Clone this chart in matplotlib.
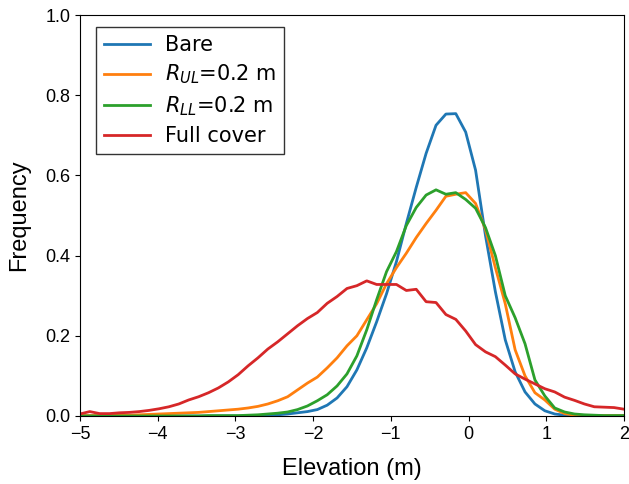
import numpy as np
import matplotlib
matplotlib.use("Agg")
import matplotlib.pyplot as plt

# elevation bin positions (56 bins over -5..2 m)
elevation = np.linspace(-5, 2, 56)

bare = [
    0.000, 0.000, 0.000, 0.000, 0.000, 0.000, 0.000, 0.000, 0.000, 0.000,
    0.000, 0.000, 0.000, 0.000, 0.000, 0.000, 0.000, 0.001, 0.001, 0.002,
    0.003, 0.005, 0.008, 0.011, 0.016, 0.027, 0.045, 0.073, 0.115, 0.170,
    0.235, 0.305, 0.385, 0.480, 0.570, 0.655, 0.725, 0.753, 0.754, 0.708,
    0.613, 0.450, 0.310, 0.190, 0.110, 0.060, 0.030, 0.013, 0.005, 0.002,
    0.001, 0.000, 0.000, 0.000, 0.000, 0.000,
]
upper_layer = [
    0.001, 0.001, 0.001, 0.002, 0.002, 0.002, 0.003, 0.004, 0.005, 0.006,
    0.007, 0.008, 0.009, 0.011, 0.013, 0.015, 0.017, 0.020, 0.024, 0.030,
    0.038, 0.048, 0.065, 0.082, 0.097, 0.120, 0.145, 0.175, 0.200, 0.240,
    0.280, 0.330, 0.370, 0.406, 0.445, 0.480, 0.513, 0.548, 0.553, 0.557,
    0.530, 0.465, 0.370, 0.280, 0.165, 0.100, 0.058, 0.040, 0.017, 0.006,
    0.002, 0.001, 0.001, 0.001, 0.001, 0.001,
]
lower_layer = [
    0.000, 0.000, 0.000, 0.000, 0.000, 0.000, 0.000, 0.000, 0.000, 0.000,
    0.000, 0.000, 0.000, 0.001, 0.001, 0.001, 0.001, 0.002, 0.003, 0.005,
    0.007, 0.010, 0.016, 0.025, 0.038, 0.053, 0.075, 0.105, 0.150, 0.215,
    0.290, 0.360, 0.410, 0.475, 0.520, 0.551, 0.564, 0.553, 0.557, 0.540,
    0.518, 0.470, 0.400, 0.300, 0.245, 0.180, 0.090, 0.050, 0.020, 0.010,
    0.005, 0.003, 0.002, 0.001, 0.001, 0.001,
]
full_cover = [
    0.005, 0.011, 0.006, 0.006, 0.008, 0.009, 0.011, 0.014, 0.018, 0.023,
    0.030, 0.040, 0.048, 0.058, 0.070, 0.085, 0.103, 0.125, 0.145, 0.167,
    0.185, 0.205, 0.225, 0.243, 0.258, 0.281, 0.298, 0.318, 0.325, 0.337,
    0.328, 0.328, 0.328, 0.313, 0.316, 0.285, 0.283, 0.253, 0.241, 0.212,
    0.178, 0.160, 0.148, 0.127, 0.105, 0.092, 0.080, 0.068, 0.060, 0.047,
    0.039, 0.030, 0.023, 0.022, 0.021, 0.017,
]

fig = plt.figure(figsize=(6.29, 4.84), dpi=100)
ax = fig.add_axes([0.127, 0.1405, 0.865, 0.8285])

ax.plot(elevation, bare, lw=2, label="Bare")
ax.plot(elevation, upper_layer, lw=2, label="$R_{UL}$=0.2 m")
ax.plot(elevation, lower_layer, lw=2, label="$R_{LL}$=0.2 m")
ax.plot(elevation, full_cover, lw=2, label="Full cover")

ax.set_xlim(-5, 2)
ax.set_ylim(0, 1)
ax.set_xlabel("Elevation (m)", fontsize=17, family="Liberation Sans", labelpad=11)
ax.set_ylabel("Frequency", fontsize=17, family="Liberation Sans", labelpad=11)
ax.tick_params(labelsize=13)
for lab in ax.get_xticklabels() + ax.get_yticklabels():
    lab.set_family("Liberation Sans")

leg = ax.legend(loc="upper left", bbox_to_anchor=(0.029, 0.971), borderaxespad=0,
                fontsize=15, fancybox=False, framealpha=1, edgecolor="#333333",
                handlelength=2.2, handletextpad=0.75, labelspacing=0.38)

fig.savefig("out.png", dpi=100)
